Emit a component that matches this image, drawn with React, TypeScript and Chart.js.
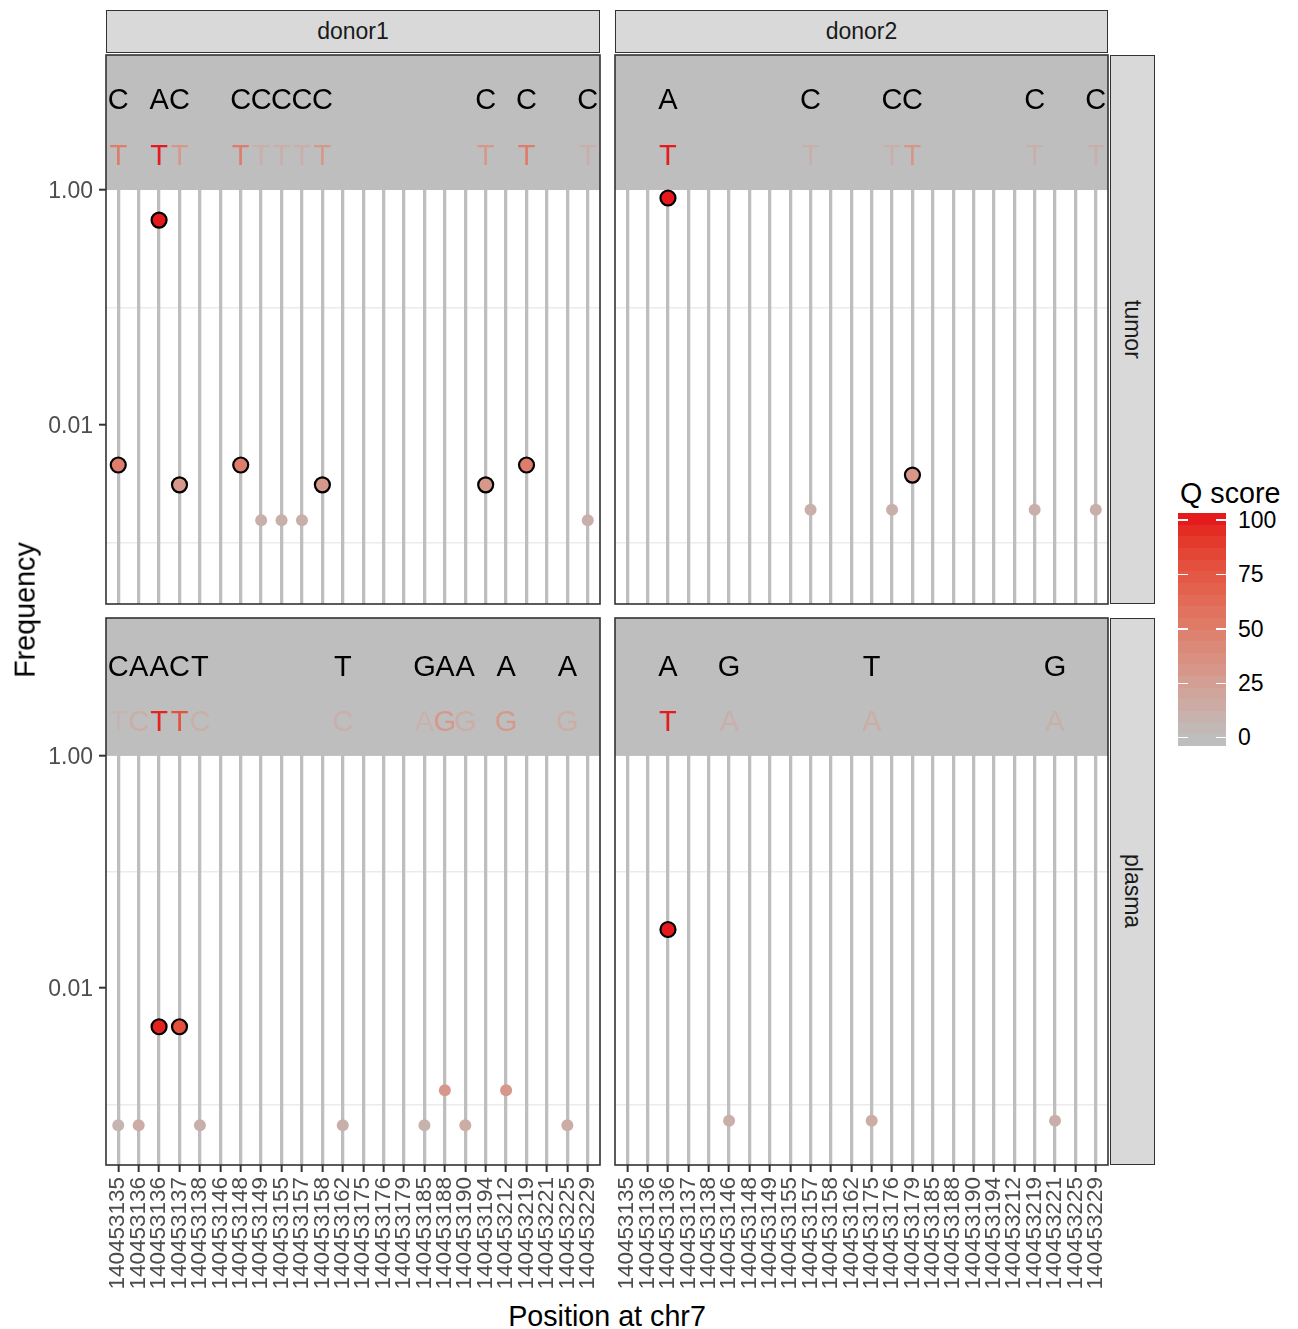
import React, { useEffect, useRef } from "react";
import { Chart, registerables } from "chart.js";
Chart.register(...registerables);

const FONT = '"Liberation Sans", Arial, Helvetica, sans-serif';

// ---------- data ----------
const positions = [
  "140453135", "140453136", "140453136", "140453137", "140453138", "140453146",
  "140453148", "140453149", "140453155", "140453157", "140453158", "140453162",
  "140453175", "140453176", "140453179", "140453185", "140453188", "140453190",
  "140453194", "140453212", "140453219", "140453221", "140453225", "140453229",
];
const donors = ["donor1", "donor2"];
const tissues = ["tumor", "plasma"];
const yTickValues = [0.001, 0.01, 0.1, 1];
const qBreaks = [0, 25, 50, 75, 100];
const refLetterY = 6;
const altLetterY = 2;
const rowYMin = [0.0003, 0.00034];
const rowYMax = [14.09, 15.4];

const _ = null;
// donor1 / tumor
const d1TumorFreq = [0.00457, _, 0.555, 0.0031, _, _, 0.00457, 0.00155, 0.00155, 0.00155, 0.0031, _, _, _, _, _, _, _, 0.0031, _, 0.00457, _, _, 0.00155];
const d1TumorQ = [50, _, 100, 30, _, _, 50, 12, 12, 12, 30, _, _, _, _, _, _, _, 30, _, 50, _, _, 12];
const d1TumorBig = [1, 0, 1, 1, 0, 0, 1, 0, 0, 0, 1, 0, 0, 0, 0, 0, 0, 0, 1, 0, 1, 0, 0, 0];
const d1TumorRef = ["C", _, "A", "C", _, _, "C", "C", "C", "C", "C", _, _, _, _, _, _, _, "C", _, "C", _, _, "C"];
const d1TumorAlt = ["T", _, "T", "T", _, _, "T", "T", "T", "T", "T", _, _, _, _, _, _, _, "T", _, "T", _, _, "T"];
// donor2 / tumor
const d2TumorFreq = [_, _, 0.855, _, _, _, _, _, _, 0.0019, _, _, _, 0.0019, 0.00375, _, _, _, _, _, 0.0019, _, _, 0.0019];
const d2TumorQ = [_, _, 100, _, _, _, _, _, _, 12, _, _, _, 12, 32, _, _, _, _, _, 12, _, _, 12];
const d2TumorBig = [0, 0, 1, 0, 0, 0, 0, 0, 0, 0, 0, 0, 0, 0, 1, 0, 0, 0, 0, 0, 0, 0, 0, 0];
const d2TumorRef = [_, _, "A", _, _, _, _, _, _, "C", _, _, _, "C", "C", _, _, _, _, _, "C", _, _, "C"];
const d2TumorAlt = [_, _, "T", _, _, _, _, _, _, "T", _, _, _, "T", "T", _, _, _, _, _, "T", _, _, "T"];
// donor1 / plasma
const d1PlasmaFreq = [0.00066, 0.00066, 0.00465, 0.00465, 0.00066, _, _, _, _, _, _, 0.00066, _, _, _, 0.00066, 0.00132, 0.00066, _, 0.00132, _, _, 0.00066, _];
const d1PlasmaQ = [8, 14, 98, 78, 12, _, _, _, _, _, _, 12, _, _, _, 10, 30, 14, _, 30, _, _, 14, _];
const d1PlasmaBig = [0, 0, 1, 1, 0, 0, 0, 0, 0, 0, 0, 0, 0, 0, 0, 0, 0, 0, 0, 0, 0, 0, 0, 0];
const d1PlasmaRef = ["C", "A", "A", "C", "T", _, _, _, _, _, _, "T", _, _, _, "G", "A", "A", _, "A", _, _, "A", _];
const d1PlasmaAlt = ["T", "C", "T", "T", "C", _, _, _, _, _, _, "C", _, _, _, "A", "G", "G", _, "G", _, _, "G", _];
// donor2 / plasma
const d2PlasmaFreq = [_, _, 0.032, _, _, 0.00072, _, _, _, _, _, _, 0.00072, _, _, _, _, _, _, _, _, 0.00072, _, _];
const d2PlasmaQ = [_, _, 100, _, _, 12, _, _, _, _, _, _, 14, _, _, _, _, _, _, _, _, 12, _, _];
const d2PlasmaBig = [0, 0, 1, 0, 0, 0, 0, 0, 0, 0, 0, 0, 0, 0, 0, 0, 0, 0, 0, 0, 0, 0, 0, 0];
const d2PlasmaRef = [_, _, "A", _, _, "G", _, _, _, _, _, _, "T", _, _, _, _, _, _, _, _, "G", _, _];
const d2PlasmaAlt = [_, _, "T", _, _, "A", _, _, _, _, _, _, "A", _, _, _, _, _, _, _, _, "A", _, _];

const panelSpecs = [
  { row: 0, col: 0, freq: d1TumorFreq, q: d1TumorQ, big: d1TumorBig, ref: d1TumorRef, alt: d1TumorAlt },
  { row: 0, col: 1, freq: d2TumorFreq, q: d2TumorQ, big: d2TumorBig, ref: d2TumorRef, alt: d2TumorAlt },
  { row: 1, col: 0, freq: d1PlasmaFreq, q: d1PlasmaQ, big: d1PlasmaBig, ref: d1PlasmaRef, alt: d1PlasmaAlt },
  { row: 1, col: 1, freq: d2PlasmaFreq, q: d2PlasmaQ, big: d2PlasmaBig, ref: d2PlasmaRef, alt: d2PlasmaAlt },
];

// ---------- layout ----------
const colLeft = [106, 615];
const colRight = [600, 1108];
const rowTop = [55, 618];
const rowBottom = [604, 1165];
const CANVAS_BOTTOM = 1300;

// ---------- colour scale (CIELAB interpolation like ggplot) ----------
const LOW = [190, 190, 190];
const HIGH = [228, 26, 28];
function toLin(c: number) { c /= 255; return c <= 0.04045 ? c / 12.92 : Math.pow((c + 0.055) / 1.055, 2.4); }
function fromLin(c: number) {
  const v = c <= 0.0031308 ? 12.92 * c : 1.055 * Math.pow(Math.max(c, 0), 1 / 2.4) - 0.055;
  return Math.round(Math.min(1, Math.max(0, v)) * 255);
}
const Xn = 0.95047, Yn = 1, Zn = 1.08883;
const fL = (t: number) => (t > 0.008856 ? Math.cbrt(t) : 7.787 * t + 16 / 116);
const fInv = (t: number) => (t > 0.206893 ? t * t * t : (t - 16 / 116) / 7.787);
function rgb2lab(rgb: number[]) {
  const R = toLin(rgb[0]), G = toLin(rgb[1]), B = toLin(rgb[2]);
  const X = (0.4124 * R + 0.3576 * G + 0.1805 * B) / Xn;
  const Y = (0.2126 * R + 0.7152 * G + 0.0722 * B) / Yn;
  const Z = (0.0193 * R + 0.1192 * G + 0.9505 * B) / Zn;
  const fx = fL(X), fy = fL(Y), fz = fL(Z);
  return [116 * fy - 16, 500 * (fx - fy), 200 * (fy - fz)];
}
function lab2rgb(lab: number[]) {
  const fy = (lab[0] + 16) / 116, fx = fy + lab[1] / 500, fz = fy - lab[2] / 200;
  const X = fInv(fx) * Xn, Y = fInv(fy) * Yn, Z = fInv(fz) * Zn;
  const R = 3.2406 * X - 1.5372 * Y - 0.4986 * Z;
  const G = -0.9689 * X + 1.8758 * Y + 0.0415 * Z;
  const B = 0.0557 * X - 0.204 * Y + 1.057 * Z;
  return [fromLin(R), fromLin(G), fromLin(B)];
}
const LAB_LOW = rgb2lab(LOW);
const LAB_HIGH = rgb2lab(HIGH);
function qColor(q: number) {
  const t = Math.min(1, Math.max(0, q / 100));
  const lab = [0, 1, 2].map((k) => LAB_LOW[k] + (LAB_HIGH[k] - LAB_LOW[k]) * t);
  const c = lab2rgb(lab);
  return `rgb(${c[0]},${c[1]},${c[2]})`;
}

function Panel({ spec }: { spec: any }) {
  const { row, col } = spec;
  const M = 2;
  const cLeft = col === 0 ? 0 : colLeft[col] - M;
  const cTop = rowTop[row] - M;
  const cRight = colRight[col] + M;
  const cBottom = row === 1 ? CANVAS_BOTTOM : rowBottom[row] + M;
  const W = cRight - cLeft;
  const H = cBottom - cTop;
  const ref = useRef<HTMLCanvasElement>(null);

  useEffect(() => {
    const idx = spec.freq.map((v: any, i: number) => (v == null ? -1 : i)).filter((i: number) => i >= 0);
    const data = idx.map((i: number) => ({ x: i, y: spec.freq[i] }));
    const bg = idx.map((i: number) => qColor(spec.q[i]));
    const radius = idx.map((i: number) => (spec.big[i] ? 7.5 : 6));
    const bw = idx.map((i: number) => (spec.big[i] ? 2.2 : 0));

    const bandPlugin = {
      id: "band",
      beforeDatasetsDraw(chart: any) {
        const { ctx, chartArea, scales } = chart;
        const yb = scales.y.getPixelForValue(1);
        ctx.save();
        ctx.fillStyle = "#BEBEBE";
        ctx.fillRect(chartArea.left, chartArea.top, chartArea.right - chartArea.left, yb - chartArea.top);
        ctx.restore();
      },
    };
    const lettersPlugin = {
      id: "letters",
      afterDatasetsDraw(chart: any) {
        const { ctx, scales } = chart;
        ctx.save();
        ctx.font = `29px ${FONT}`;
        ctx.textAlign = "center";
        ctx.textBaseline = "middle";
        const yRef = scales.y.getPixelForValue(refLetterY);
        const yAlt = scales.y.getPixelForValue(altLetterY);
        spec.ref.forEach((r: string | null, i: number) => {
          if (!r) return;
          const x = scales.x.getPixelForValue(i);
          ctx.fillStyle = "#000000";
          ctx.fillText(r, x, yRef + 2.5);
          const a = spec.alt[i];
          if (a) {
            ctx.fillStyle = qColor(spec.q[i] ?? 0);
            ctx.fillText(a, x, yAlt + 2);
          }
        });
        ctx.restore();
      },
    };
    const borderPlugin = {
      id: "border",
      afterDraw(chart: any) {
        const { ctx, chartArea } = chart;
        ctx.save();
        ctx.strokeStyle = "#333333";
        ctx.lineWidth = 1.6;
        ctx.strokeRect(chartArea.left, chartArea.top, chartArea.right - chartArea.left, chartArea.bottom - chartArea.top);
        ctx.restore();
      },
    };
    const zeroPad = (s: any) => { s.paddingTop = 0; s.paddingBottom = 0; s.paddingLeft = 0; s.paddingRight = 0; };

    const chart = new Chart(ref.current as HTMLCanvasElement, {
      type: "scatter",
      data: {
        datasets: [
          {
            data,
            pointRadius: radius,
            pointBackgroundColor: bg,
            pointBorderColor: "#000000",
            pointBorderWidth: bw,
            pointHoverRadius: radius,
          } as any,
        ],
      },
      options: {
        responsive: false,
        animation: false,
        events: [],
        layout: { autoPadding: false, padding: { left: col === 0 ? 0 : M, right: M, top: M, bottom: row === 1 ? 0 : M } },
        plugins: { legend: { display: false }, tooltip: { enabled: false } },
        scales: {
          y: {
            type: "logarithmic",
            position: "left",
            min: rowYMin[row],
            max: rowYMax[row],
            afterBuildTicks: (s: any) => { s.ticks = yTickValues.map((v) => ({ value: v })); },
            afterFit: (s: any) => { s.width = col === 0 ? 106 : 0; zeroPad(s); },
            border: { display: false },
            grid: {
              color: (c: any) => (c.tick && (c.tick.value === 0.1 || c.tick.value === 0.001) ? "#EBEBEB" : "rgba(0,0,0,0)"),
              lineWidth: 1.4,
              drawTicks: col === 0,
              tickLength: 7,
              tickWidth: 2,
              tickColor: (c: any) => (c.tick && (c.tick.value === 1 || c.tick.value === 0.01) ? "#333333" : "rgba(0,0,0,0)"),
            },
            ticks: {
              display: col === 0,
              padding: 6,
              labelOffset: 1.5,
              color: "#4D4D4D",
              font: { size: 23, family: FONT },
              callback: (v: any) => (v === 1 ? "1.00" : v === 0.01 ? "0.01" : ""),
            },
          } as any,
          x: {
            type: "linear",
            position: "bottom",
            min: -0.6,
            max: positions.length - 1 + 0.6,
            afterBuildTicks: (s: any) => { s.ticks = positions.map((_p, i) => ({ value: i })); },
            afterFit: (s: any) => { s.height = row === 1 ? CANVAS_BOTTOM - rowBottom[1] : 0; zeroPad(s); },
            border: { display: false },
            grid: {
              color: "#BEBEBE",
              lineWidth: 3.3,
              drawTicks: row === 1,
              tickLength: 7,
              tickWidth: 2,
              tickColor: "#333333",
            },
            ticks: {
              display: row === 1,
              autoSkip: false,
              maxRotation: 90,
              minRotation: 90,
              padding: 5,
              color: "#4D4D4D",
              font: { size: 22.5, family: FONT },
              callback: (v: any) => positions[v] ?? "",
            },
          } as any,
        },
      },
      plugins: [bandPlugin, lettersPlugin, borderPlugin],
    });
    return () => chart.destroy();
  }, []);

  return (
    <canvas
      ref={ref}
      width={W}
      height={H}
      style={{ position: "absolute", left: cLeft, top: cTop, width: W, height: H }}
    />
  );
}

// text positioned by the vertical centre of its capitals
function TextAt({ text, x, yc, size, align = "left", color = "#000" }: any) {
  const top = yc - 0.4885 * size;
  const style: any = {
    position: "absolute",
    top,
    fontSize: size,
    lineHeight: `${size}px`,
    color,
    whiteSpace: "nowrap",
    fontFamily: FONT,
  };
  if (align === "left") style.left = x;
  else if (align === "center") { style.left = x; style.transform = "translateX(-50%)"; }
  else { style.right = 1298 - x; }
  return <div style={style}>{text}</div>;
}

export default function App() {
  const barTop = 513, barBottom = 746, barLeft = 1178, barW = 48;
  const nbin = 20;
  const binH = (barBottom - barTop) / nbin;
  const qToY = (v: number) => 737.7 - v * 2.177;
  const bins = Array.from({ length: nbin }, (_b, j) => {
    const yc = barTop + (j + 0.5) * binH;
    const v = (737.7 - yc) / 2.177;
    return { top: barTop + j * binH, color: qColor(v) };
  });

  return (
    <div style={{ position: "absolute", left: 0, top: 0, width: 1298, height: 1329, background: "#fff", overflow: "hidden", fontFamily: FONT }}>
      {panelSpecs.map((s, i) => <Panel key={i} spec={s} />)}

      {donors.map((d, c) => (
        <div key={d} style={{ position: "absolute", left: colLeft[c], top: 10, width: colRight[c] - colLeft[c], height: 43, background: "#D9D9D9", border: "1.5px solid #333", boxSizing: "border-box", display: "flex", alignItems: "center", justifyContent: "center", fontSize: 23, color: "#1A1A1A" }}>
          {d}
        </div>
      ))}
      {tissues.map((t, r) => (
        <div key={t} style={{ position: "absolute", left: 1110, top: rowTop[r], width: 45, height: rowBottom[r] - rowTop[r], background: "#D9D9D9", border: "1.5px solid #333", boxSizing: "border-box", display: "flex", alignItems: "center", justifyContent: "center", fontSize: 23, color: "#1A1A1A" }}>
          <span style={{ writingMode: "vertical-rl" as any }}>{t}</span>
        </div>
      ))}

      <div style={{ position: "absolute", left: 25, top: 610, transform: "translate(-50%, -50%) rotate(-90deg)", fontSize: 28.7, lineHeight: "28.7px", whiteSpace: "nowrap", color: "#000" }}>
        Frequency
      </div>
      <TextAt text="Position at chr7" x={607} yc={1316} size={28.7} align="center" />

      <TextAt text="Q score" x={1180} yc={493} size={28.7} />
      {bins.map((b, j) => (
        <div key={j} style={{ position: "absolute", left: barLeft, top: b.top, width: barW, height: binH + 0.5, background: b.color }} />
      ))}
      {qBreaks.map((v) => (
        <React.Fragment key={v}>
          <div style={{ position: "absolute", left: barLeft, top: qToY(v) - 0.75, width: 10, height: 1.5, background: "#fff" }} />
          <div style={{ position: "absolute", left: barLeft + barW - 10, top: qToY(v) - 0.75, width: 10, height: 1.5, background: "#fff" }} />
          <TextAt text={String(v)} x={1238} yc={qToY(v)} size={23} />
        </React.Fragment>
      ))}
    </div>
  );
}
